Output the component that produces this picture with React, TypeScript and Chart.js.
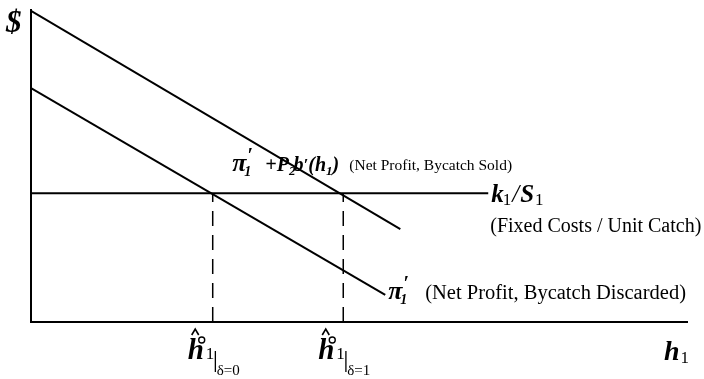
import React, { useEffect, useRef } from "react";
import Chart from "chart.js/auto";

// Marginal net profit when bycatch is sold (upper line)
const soldX = [0, 56.3];
const soldY = [99.7, 29.8];
// Marginal net profit when bycatch is discarded (lower line)
const discardX = [0, 54];
const discardY = [75, 8.7];
// Fixed costs per unit catch (horizontal line)
const costX = [0, 69.7];
const costY = [41.3, 41.3];
// Optimal harvest levels where each profit line meets the cost line
const hHat = [27.7, 47.6];
const hHatLabels = ["δ=0", "δ=1"];

const SERIF = '"Liberation Serif", "Times New Roman", serif';

type Run = { t: string; f: string; dy?: number; dx?: number };

function drawRuns(ctx: CanvasRenderingContext2D, x: number, y: number, runs: Run[]) {
  let cx = x;
  for (const r of runs) {
    ctx.font = r.f;
    cx += r.dx || 0;
    ctx.fillText(r.t, cx, y + (r.dy || 0));
    cx += ctx.measureText(r.t).width;
  }
  return cx;
}

const bi = (s: number) => `italic bold ${s}px ${SERIF}`;
const it = (s: number) => `italic ${s}px ${SERIF}`;
const rg = (s: number) => `${s}px ${SERIF}`;

// Draws a bold italic π with a prime above and an italic subscript 1
function drawPiPrime(ctx: CanvasRenderingContext2D, x: number, y: number) {
  ctx.font = bi(26);
  ctx.fillText("π", x, y);
  ctx.font = bi(20);
  ctx.fillText("′", x + 15, y - 9);
  ctx.font = bi(14);
  ctx.fillText("1", x + 12, y + 5);
}

const labelPlugin = {
  id: "labels",
  afterDraw(chart: any) {
    const ctx: CanvasRenderingContext2D = chart.ctx;
    const xs = chart.scales.x;
    const ys = chart.scales.y;
    ctx.save();
    ctx.fillStyle = "#000";
    ctx.strokeStyle = "#000";
    ctx.textBaseline = "alphabetic";
    ctx.textAlign = "left";

    // y-axis unit
    drawRuns(ctx, 6, 32, [{ t: "$", f: bi(31) }]);

    // upper line label
    const ux = xs.getPixelForValue(soldX[1]) - 168;
    const uy = ys.getPixelForValue(soldY[1]) - 58;
    drawPiPrime(ctx, ux, uy);
    drawRuns(ctx, ux + 33, uy, [
      { t: "+P", f: bi(20) },
      { t: "2", f: bi(13), dy: 4, dx: 0 },
      { t: "b", f: bi(20), dx: -2 },
      { t: "′", f: bi(17), dy: -1 },
      { t: "(h", f: bi(20) },
      { t: "1", f: bi(13), dy: 4 },
      { t: ")", f: bi(20) },
    ]);
    drawRuns(ctx, ux + 117, uy - 1, [{ t: "(Net Profit, Bycatch Sold)", f: rg(15.5) }]);

    // cost line label
    const kx = xs.getPixelForValue(costX[1]) + 3;
    const ky = ys.getPixelForValue(costY[1]);
    drawRuns(ctx, kx, ky + 9, [
      { t: "k", f: bi(25) },
      { t: "1", f: rg(17), dy: 3, dx: -1 },
      { t: "/", f: it(25), dx: 1 },
      { t: "S", f: bi(25), dx: 1 },
      { t: "1", f: rg(17), dy: 3, dx: 1 },
    ]);
    drawRuns(ctx, kx - 1, ky + 39, [{ t: "(Fixed Costs / Unit Catch)", f: rg(20) }]);

    // lower line label
    const lx = xs.getPixelForValue(discardX[1]) + 3;
    const ly = ys.getPixelForValue(discardY[1]) + 4;
    drawPiPrime(ctx, lx, ly);
    drawRuns(ctx, lx + 37, ly, [{ t: "(Net Profit, Bycatch Discarded)", f: rg(20.5) }]);

    // optimal harvest labels under the dashed lines
    const base = ys.getPixelForValue(0);
    hHat.forEach((h, i) => {
      const px = xs.getPixelForValue(h);
      const hx = px - 25;
      const hy = base + 37;
      ctx.font = bi(29);
      ctx.fillText("h", hx, hy);
      // hat
      ctx.lineWidth = 1.6;
      ctx.beginPath();
      ctx.moveTo(hx + 4, hy - 24);
      ctx.lineTo(hx + 7.5, hy - 30);
      ctx.lineTo(hx + 11, hy - 24);
      ctx.stroke();
      // small circle superscript
      ctx.lineWidth = 1.4;
      ctx.beginPath();
      ctx.arc(hx + 14, hy - 19, 3, 0, Math.PI * 2);
      ctx.stroke();
      ctx.font = rg(17);
      ctx.fillText("1", hx + 18, hy);
      ctx.fillRect(hx + 27, hy - 8, 1.3, 21);
      ctx.font = rg(15);
      ctx.fillText(hHatLabels[i], hx + 29, hy + 16);
    });

    // x-axis label
    const xr = xs.right;
    drawRuns(ctx, xr - 23, base + 38, [
      { t: "h", f: bi(28) },
      { t: "1", f: rg(17), dy: 3, dx: 1 },
    ]);
    ctx.restore();
  },
};

const line = (xv: number[], yv: number[], dash: number[] = [], width = 2) => ({
  data: xv.map((x, i) => ({ x, y: yv[i] })),
  showLine: true,
  borderColor: "#000",
  borderWidth: width,
  borderDash: dash,
  pointRadius: 0,
  fill: false,
});

export default function App() {
  const ref = useRef<HTMLCanvasElement>(null);
  useEffect(() => {
    if (!ref.current) return;
    const chart = new Chart(ref.current, {
      type: "scatter",
      data: {
        datasets: [
          line(soldX, soldY),
          line(discardX, discardY),
          line(costX, costY),
          ...hHat.map((h) => line([h, h], [0, costY[0]], [15, 9], 1.5)),
        ],
      },
      options: {
        animation: false,
        responsive: false,
        events: [],
        layout: { padding: { left: 31, right: 17, top: 10, bottom: 57 } },
        plugins: { legend: { display: false }, tooltip: { enabled: false } },
        scales: {
          x: {
            type: "linear",
            min: 0,
            max: 100,
            ticks: { display: false },
            grid: { display: false, drawTicks: false },
            border: { display: true, color: "#000", width: 2 },
            afterFit: (s: any) => { s.height = 0; },
          },
          y: {
            type: "linear",
            min: 0,
            max: 100,
            ticks: { display: false },
            grid: { display: false, drawTicks: false },
            border: { display: true, color: "#000", width: 2 },
            afterFit: (s: any) => { s.width = 0; },
          },
        },
      },
      plugins: [labelPlugin],
    });
    return () => chart.destroy();
  }, []);
  return (
    <div style={{ position: "fixed", left: 0, top: 0, width: 704, height: 379, background: "#fff" }}>
      <canvas ref={ref} width={704} height={379} style={{ display: "block" }} />
    </div>
  );
}
